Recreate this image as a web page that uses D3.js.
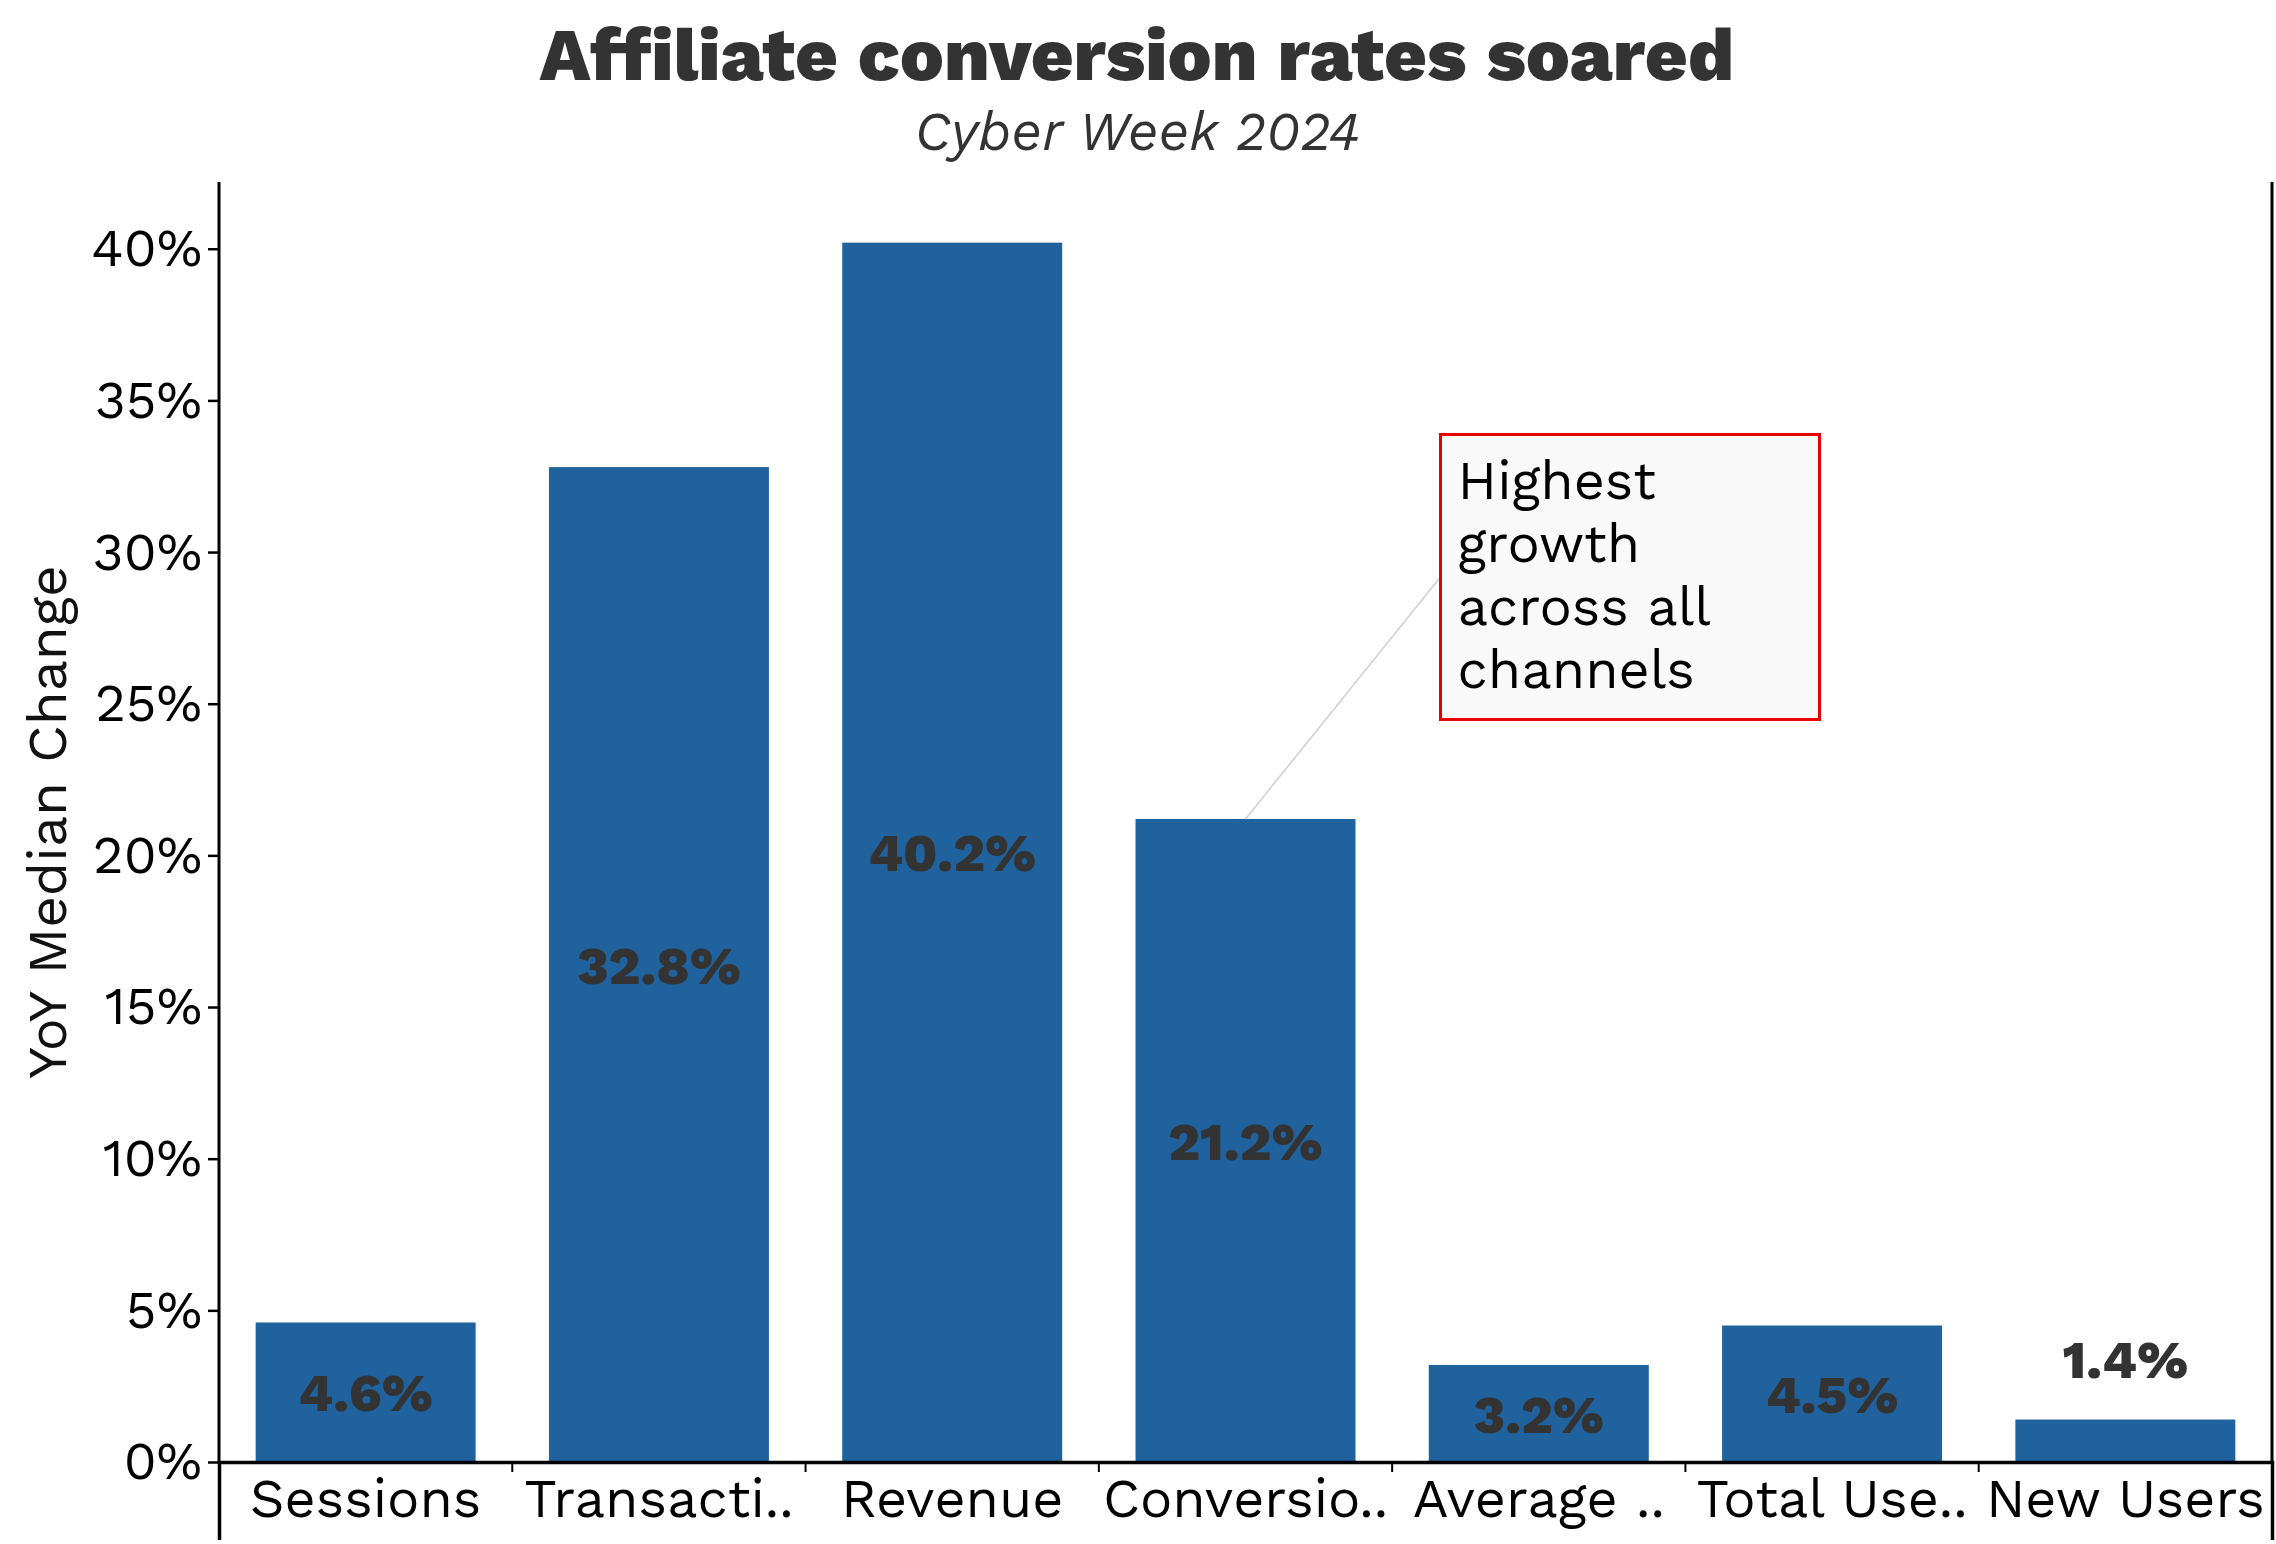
<!DOCTYPE html>
<html>
<head>
    <meta charset="utf-8">
    <style>
        body {
            margin: 0;
            background: #fff;
            font-family: 'Work Sans', Inter, 'Noto Sans', sans-serif;
        }

        .tick text {
            fill: #000;
        }

        .bar {
            fill: #1f629e;
        }

        .bar-label {
            font-weight: 800;
            fill: #333;
            text-anchor: middle;
        }
    </style>
    <script src="https://cdn.jsdelivr.net/npm/d3@7"></script>
</head>
<body>
    <script>
        // data
        const categories = ['Sessions', 'Transacti..', 'Revenue', 'Conversio..', 'Average ..', 'Total Use..', 'New Users'];
        const values = [4.6, 32.8, 40.2, 21.2, 3.2, 4.5, 1.4];
        const yTicks = [0, 5, 10, 15, 20, 25, 30, 35, 40];
        const noteLines = ['Highest', 'growth', 'across all', 'channels'];
        const noteTarget = 'Conversio..';

        const width = 2276,
            height = 1544;
        const margin = { top: 182, right: 4, bottom: 82, left: 219 };

        const svg = d3.select('body').append('svg')
            .attr('width', width)
            .attr('height', height);

        const x = d3.scaleBand()
            .domain(categories)
            .range([margin.left, width - margin.right])
            .paddingInner(0.25)
            .paddingOuter(0.125);

        const y = d3.scaleLinear()
            .domain([0, 42.2])
            .range([height - margin.bottom, margin.top]);

        //TITLES
        svg.append('text')
            .attr('x', 1137)
            .attr('y', 80)
            .attr('text-anchor', 'middle')
            .style('font-size', '74px')
            .style('font-weight', 800)
            .style('fill', '#333')
            .text('Affiliate conversion rates soared');

        svg.append('text')
            .attr('x', 1137)
            .attr('y', 150)
            .attr('text-anchor', 'middle')
            .style('font-size', '54px')
            .style('font-style', 'italic')
            .style('fill', '#333')
            .text('Cyber Week 2024');

        //BARS
        const bars = svg.append('g');
        bars.selectAll('rect')
            .data(categories)
            .join('rect')
            .attr('class', 'bar')
            .attr('x', d => x(d))
            .attr('width', x.bandwidth())
            .attr('y', (d, i) => y(values[i]))
            .attr('height', (d, i) => y(0) - y(values[i]));

        // labels in the middle of the bar, or above it when the bar is too short
        bars.selectAll('text')
            .data(categories)
            .join('text')
            .attr('class', 'bar-label')
            .style('font-size', '53px')
            .attr('x', d => x(d) + x.bandwidth() / 2)
            .attr('y', (d, i) => {
                const h = y(0) - y(values[i]);
                return h < 60 ? y(values[i]) - 42 : y(values[i] / 2);
            })
            .attr('dy', (d, i) => (y(0) - y(values[i]) < 60 ? 0 : '0.36em'))
            .text((d, i) => d3.format('.1f')(values[i]) + '%');

        //AXES
        const yAxis = svg.append('g')
            .attr('transform', `translate(${margin.left},0)`)
            .call(d3.axisLeft(y)
                .tickValues(yTicks)
                .tickFormat(d => d + '%')
                .tickSize(11)
                .tickSizeOuter(0)
                .tickPadding(6));
        yAxis.select('.domain').remove();
        yAxis.selectAll('.tick line').attr('stroke-width', 2.5);
        yAxis.selectAll('.tick text')
            .style('font-size', '53px')
            .style('font-family', "'Work Sans', Inter, sans-serif");

        // left and right frame lines
        svg.append('line')
            .attr('x1', margin.left).attr('x2', margin.left)
            .attr('y1', margin.top).attr('y2', y(0))
            .attr('stroke', '#000').attr('stroke-width', 3);
        svg.append('line')
            .attr('x1', width - margin.right).attr('x2', width - margin.right)
            .attr('y1', margin.top).attr('y2', y(0))
            .attr('stroke', '#000').attr('stroke-width', 3);

        const xAxis = svg.append('g')
            .attr('transform', `translate(0,${y(0)})`)
            .call(d3.axisBottom(x)
                .tickSize(0)
                .tickSizeOuter(78)
                .tickPadding(17));
        xAxis.select('.domain').attr('stroke-width', 3.5);
        xAxis.selectAll('.tick text')
            .style('font-size', '54px')
            .style('font-family', "'Work Sans', Inter, sans-serif");

        // ticks between the categories
        const gap = x.step() * x.paddingInner() / 2;
        xAxis.selectAll('line.sep')
            .data(categories.slice(1))
            .join('line')
            .attr('class', 'sep')
            .attr('x1', d => x(d) - gap).attr('x2', d => x(d) - gap)
            .attr('y1', 0).attr('y2', 10)
            .attr('stroke', '#000').attr('stroke-width', 2);

        svg.append('text')
            .attr('transform', `translate(66,${(margin.top + y(0)) / 2}) rotate(-90)`)
            .attr('text-anchor', 'middle')
            .style('font-size', '55px')
            .style('fill', '#111')
            .text('YoY Median Change');

        //ANNOTATION
        const ti = categories.indexOf(noteTarget);
        const ax = x(noteTarget) + x.bandwidth() / 2,
            ay = y(values[ti]);
        const boxX = ax + 195, boxMidY = ay - 242;
        const boxW = 379, boxH = 285;

        svg.append('line')
            .attr('x1', ax).attr('y1', ay)
            .attr('x2', boxX).attr('y2', boxMidY)
            .attr('stroke', '#cfcfcf')
            .attr('stroke-width', 1.5);

        const note = svg.append('g')
            .attr('transform', `translate(${boxX},${boxMidY - boxH / 2})`);
        note.append('rect')
            .attr('width', boxW)
            .attr('height', boxH)
            .attr('fill', '#f9f9f9')
            .attr('stroke', '#e60000')
            .attr('stroke-width', 3);
        note.selectAll('text')
            .data(noteLines)
            .join('text')
            .attr('x', 17)
            .attr('y', (d, i) => 65 + i * 63)
            .style('font-size', '54px')
            .style('fill', '#000')
            .text(d => d);
    </script>
</body>
</html>
